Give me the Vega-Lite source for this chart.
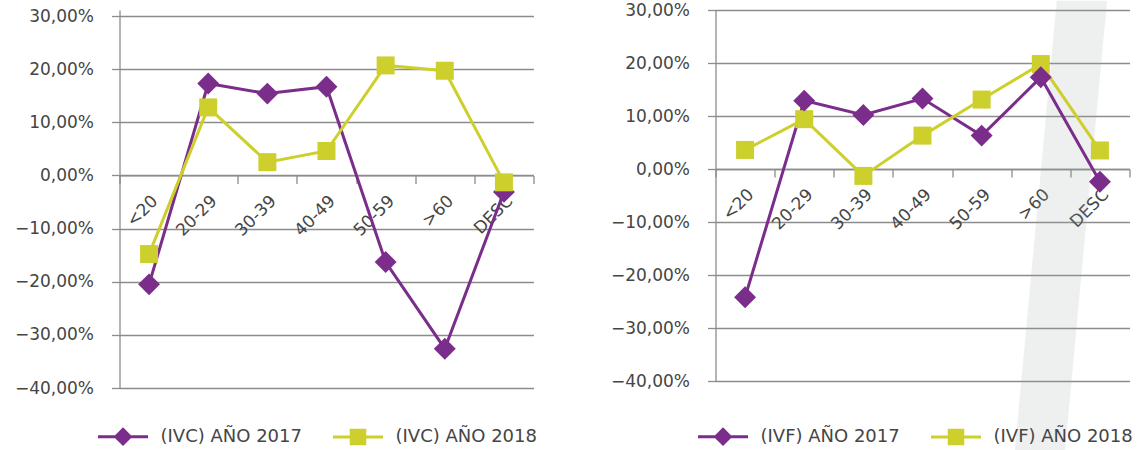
{
  "$schema": "https://vega.github.io/schema/vega-lite/v6.json",
  "background": "white",
  "padding": {"left": 13.5, "top": 0, "right": 0, "bottom": 0},
  "bounds": "flush",
  "spacing": 182,
  "datasets": {
    "ivc": [
      {"edad": "<20", "serie": "(IVC) AÑO 2017", "valor": -0.205},
      {"edad": "20-29", "serie": "(IVC) AÑO 2017", "valor": 0.173},
      {"edad": "30-39", "serie": "(IVC) AÑO 2017", "valor": 0.154},
      {"edad": "40-49", "serie": "(IVC) AÑO 2017", "valor": 0.167},
      {"edad": "50-59", "serie": "(IVC) AÑO 2017", "valor": -0.163},
      {"edad": ">60", "serie": "(IVC) AÑO 2017", "valor": -0.326},
      {"edad": "DESC", "serie": "(IVC) AÑO 2017", "valor": -0.031},
      {"edad": "<20", "serie": "(IVC) AÑO 2018", "valor": -0.148},
      {"edad": "20-29", "serie": "(IVC) AÑO 2018", "valor": 0.128},
      {"edad": "30-39", "serie": "(IVC) AÑO 2018", "valor": 0.025},
      {"edad": "40-49", "serie": "(IVC) AÑO 2018", "valor": 0.046},
      {"edad": "50-59", "serie": "(IVC) AÑO 2018", "valor": 0.207},
      {"edad": ">60", "serie": "(IVC) AÑO 2018", "valor": 0.197},
      {"edad": "DESC", "serie": "(IVC) AÑO 2018", "valor": -0.013}
    ],
    "ivf": [
      {"edad": "<20", "serie": "(IVF) AÑO 2017", "valor": -0.242},
      {"edad": "20-29", "serie": "(IVF) AÑO 2017", "valor": 0.129},
      {"edad": "30-39", "serie": "(IVF) AÑO 2017", "valor": 0.102},
      {"edad": "40-49", "serie": "(IVF) AÑO 2017", "valor": 0.133},
      {"edad": "50-59", "serie": "(IVF) AÑO 2017", "valor": 0.063},
      {"edad": ">60", "serie": "(IVF) AÑO 2017", "valor": 0.173},
      {"edad": "DESC", "serie": "(IVF) AÑO 2017", "valor": -0.024},
      {"edad": "<20", "serie": "(IVF) AÑO 2018", "valor": 0.036},
      {"edad": "20-29", "serie": "(IVF) AÑO 2018", "valor": 0.094},
      {"edad": "30-39", "serie": "(IVF) AÑO 2018", "valor": -0.013},
      {"edad": "40-49", "serie": "(IVF) AÑO 2018", "valor": 0.063},
      {"edad": "50-59", "serie": "(IVF) AÑO 2018", "valor": 0.131},
      {"edad": ">60", "serie": "(IVF) AÑO 2018", "valor": 0.198},
      {"edad": "DESC", "serie": "(IVF) AÑO 2018", "valor": 0.035}
    ],
    "franja": [
      {"pos": 5.77, "pos2": 6.62, "nivel": 0.3175},
      {"pos": 5.06, "pos2": 5.91, "nivel": -0.5315}
    ]
  },
  "hconcat": [
    {
      "width": 414,
      "height": 378,
      "data": {"name": "ivc"},
      "encoding": {
        "x": {
          "field": "edad", "type": "nominal", "sort": null,
          "scale": {"type": "band", "paddingInner": 0, "paddingOuter": 0},
          "axis": {"offset": -212.6, "labelAngle": -45, "labelAlign": "right", "labelBaseline": "top", "labelPadding": 9, "tickBand": "extent"}
        },
        "y": {
          "field": "valor", "type": "quantitative",
          "scale": {"domain": [-0.4, 0.3113], "nice": false, "zero": false},
          "axis": {"values": [-0.4, -0.3, -0.2, -0.1, 0, 0.1, 0.2, 0.3], "format": ".2%", "grid": true}
        }
      },
      "layer": [
        {
          "mark": {"type": "line", "strokeWidth": 3},
          "encoding": {
            "color": {
              "field": "serie", "type": "nominal",
              "scale": {"domain": ["(IVC) AÑO 2017", "(IVC) AÑO 2018"], "range": ["#7b2d8b", "#cdcf2d"]},
              "legend": {
                "orient": "none", "legendX": -23, "legendY": 400, "direction": "horizontal", "title": null,
                "symbolSize": 2500, "labelOffset": 11, "columnPadding": 24,
                "encode": {"symbols": {"update": {
                  "shape": {"signal": "datum.index === 0 ? 'M-1,0H1M0,-0.29L0.29,0L0,0.29L-0.29,0Z' : 'M-1,0H1M-0.27,-0.27H0.27V0.27H-0.27Z'"},
                  "fill": {"signal": "datum.index === 0 ? '#7b2d8b' : '#cdcf2d'"},
                  "stroke": {"signal": "datum.index === 0 ? '#7b2d8b' : '#cdcf2d'"},
                  "strokeWidth": {"value": 3},
                  "opacity": {"value": 1}
                }}}
              }
            }
          }
        },
        {
          "transform": [{"filter": "datum.serie === '(IVC) AÑO 2017'"}],
          "mark": {"type": "point", "shape": "diamond", "filled": true, "size": 480, "opacity": 1, "color": "#7b2d8b"}
        },
        {
          "transform": [{"filter": "datum.serie === '(IVC) AÑO 2018'"}],
          "mark": {"type": "point", "shape": "square", "filled": true, "size": 324, "opacity": 1, "color": "#cdcf2d"}
        }
      ]
    },
    {
      "width": 414,
      "height": 371,
      "resolve": {"scale": {"x": "independent"}, "axis": {"x": "independent"}},
      "layer": [
        {
          "data": {"name": "franja"},
          "mark": {"type": "area", "orient": "horizontal", "color": "#9aa39e", "opacity": 0.17},
          "encoding": {
            "y": {"field": "nivel", "type": "quantitative"},
            "x": {"field": "pos", "type": "quantitative", "scale": {"domain": [0, 7], "nice": false, "zero": false}, "axis": null},
            "x2": {"field": "pos2"}
          }
        },
        {
          "data": {"name": "ivf"},
          "encoding": {
            "x": {
              "field": "edad", "type": "nominal", "sort": null,
              "scale": {"type": "band", "paddingInner": 0, "paddingOuter": 0},
              "axis": {"offset": -212, "labelAngle": -45, "labelAlign": "right", "labelBaseline": "top", "labelPadding": 9, "tickBand": "extent"}
            },
            "y": {
              "field": "valor", "type": "quantitative",
              "scale": {"domain": [-0.4, 0.3], "nice": false, "zero": false},
              "axis": {"values": [-0.4, -0.3, -0.2, -0.1, 0, 0.1, 0.2, 0.3], "format": ".2%", "grid": true}
            }
          },
          "layer": [
            {
              "mark": {"type": "line", "strokeWidth": 3},
              "encoding": {
                "color": {
                  "field": "serie", "type": "nominal",
                  "scale": {"domain": ["(IVF) AÑO 2017", "(IVF) AÑO 2018"], "range": ["#7b2d8b", "#cdcf2d"]},
                  "legend": {
                    "orient": "none", "legendX": -19, "legendY": 400, "direction": "horizontal", "title": null,
                    "symbolSize": 2500, "labelOffset": 11, "columnPadding": 24,
                    "encode": {"symbols": {"update": {
                      "shape": {"signal": "datum.index === 0 ? 'M-1,0H1M0,-0.29L0.29,0L0,0.29L-0.29,0Z' : 'M-1,0H1M-0.27,-0.27H0.27V0.27H-0.27Z'"},
                      "fill": {"signal": "datum.index === 0 ? '#7b2d8b' : '#cdcf2d'"},
                      "stroke": {"signal": "datum.index === 0 ? '#7b2d8b' : '#cdcf2d'"},
                      "strokeWidth": {"value": 3},
                      "opacity": {"value": 1}
                    }}}
                  }
                }
              }
            },
            {
              "transform": [{"filter": "datum.serie === '(IVF) AÑO 2018'"}],
              "mark": {"type": "point", "shape": "square", "filled": true, "size": 324, "opacity": 1, "color": "#cdcf2d"}
            },
            {
              "transform": [{"filter": "datum.serie === '(IVF) AÑO 2017'"}],
              "mark": {"type": "point", "shape": "diamond", "filled": true, "size": 480, "opacity": 1, "color": "#7b2d8b"}
            }
          ]
        }
      ]
    }
  ],
  "resolve": {"scale": {"color": "independent", "x": "independent", "y": "independent"}, "legend": {"color": "independent"}},
  "config": {
    "locale": {"number": {"decimal": ",", "thousands": ".", "grouping": [3], "currency": ["", " €"]}},
    "font": "DejaVu Sans",
    "view": {"stroke": null},
    "axis": {
      "title": null,
      "labelFont": "DejaVu Sans",
      "labelFontSize": 17,
      "labelColor": "#454545",
      "domainColor": "#8c8c8c",
      "domainWidth": 1.3,
      "tickColor": "#8c8c8c",
      "tickWidth": 1.3,
      "tickSize": 8,
      "gridColor": "#8c8c8c",
      "gridWidth": 1.3,
      "gridOpacity": 1
    },
    "axisY": {"labelPadding": 18, "domain": true, "ticks": true},
    "axisX": {"grid": false},
    "legend": {
      "labelFont": "DejaVu Sans",
      "labelFontSize": 18,
      "labelColor": "#454545"
    }
  }
}
